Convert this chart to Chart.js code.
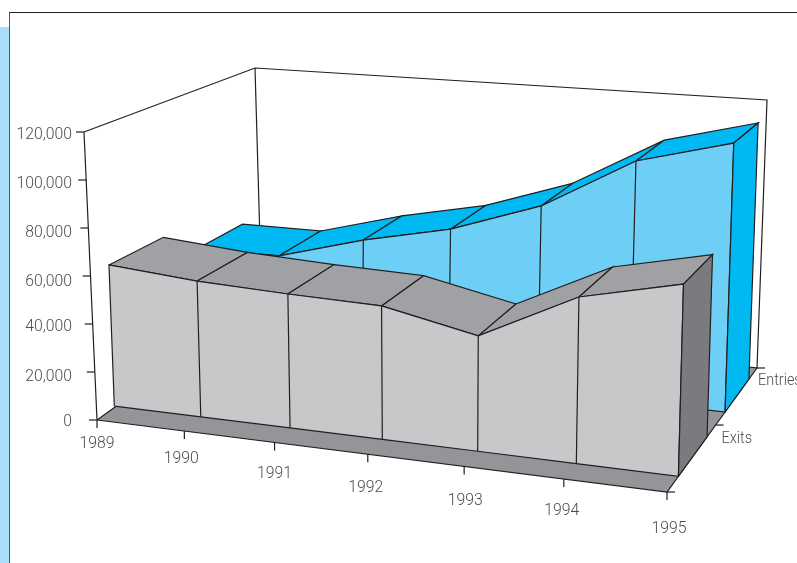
<!DOCTYPE html>
<html>
<head>
<meta charset="utf-8">
<title>Entries and exits, 1989-1995</title>
<script src="https://cdn.jsdelivr.net/npm/chart.js@4"></script>
<style>
  html, body { margin: 0; padding: 0; background: #fff; overflow: hidden; }
  #page { position: relative; width: 797px; height: 563px; }
  #band { position: absolute; left: 0; top: 27px; width: 9px; bottom: 0; background: #a9dffa; }
  #frame { position: absolute; left: 9px; top: 12px; right: 0; bottom: 0; border-left: 1px solid #58595b; border-top: 1px solid #231f20; }
  canvas { position: absolute; left: 0; top: 0; }
</style>
</head>
<body>
<div id="page">
  <div id="band"></div>
  <div id="frame"></div>
  <canvas id="chart" width="797" height="563"></canvas>
</div>
<script>
const years = ["1989", "1990", "1991", "1992", "1993", "1994", "1995"];
const exits = [60000, 56800, 55100, 54000, 45900, 65100, 73800];
const entries = [46700, 47000, 57800, 66200, 79800, 102300, 112800];
const valueTicks = [0, 20000, 40000, 60000, 80000, 100000, 120000];
const seriesNames = ["Exits", "Entries"];
const maxValue = 120000;

// box corners on screen, named floor/top + front/back + left/right
const box = {
  floorFrontLeft: [97, 420], floorFrontRight: [667, 492],
  floorBackLeft: [250, 310], floorBackRight: [757, 368],
  topFrontLeft: [84, 132], topFrontRight: [675, 173],
  topBackLeft: [255, 68], topBackRight: [767, 100]
};
const backLeftFoot = [262, 310];
const yearPerspective = -0.095;

// depth of each ribbon across the floor, 0 = front, 1 = back
const exitsDepth = [0.127, 0.445];
const entriesDepth = [0.645, 0.91];
const seriesTickDepth = [0.54, 1];

// ribbons fan out a little more than the floor edge on the left side
const ribbonFan = 9;
const ribbonFanCentre = 0.36;

// label nudges, all measured from the tick they belong to
const valueLabelDy = [6, 9, 7, 10, 9, 8, 7];
const yearLabelDx = [0, -3, 0, -2, 1, -2, 2];
const yearLabelDy = [28, 32, 36, 38, 39, 36, 41];
const seriesLabelDx = [6, 1];
const seriesLabelDy = [18, 17];

const colors = {
  line: "#231f20", text: "#4d4d4f", floor: "#939598",
  exitsFront: "#c7c8ca", exitsTop: "#a0a1a4", exitsSide: "#7a7b7e",
  entriesFront: "#6dcff6", entriesTop: "#00b9f2", entriesSide: "#00b9f2"
};

function mix(a, b, t) {
  return [a[0] + (b[0] - a[0]) * t, a[1] + (b[1] - a[1]) * t];
}

function yearFraction(i) {
  const u = i / (years.length - 1);
  return (1 + yearPerspective) * u / (1 + yearPerspective * u);
}

// year index + depth + value to canvas position
function project(i, depth, value) {
  const f = yearFraction(i);
  const floor = mix(
    mix(box.floorFrontLeft, box.floorBackLeft, depth),
    mix(box.floorFrontRight, box.floorBackRight, depth), f);
  const top = mix(
    mix(box.topFrontLeft, box.topBackLeft, depth),
    mix(box.topFrontRight, box.topBackRight, depth), f);
  const p = mix(floor, top, value / maxValue);
  return { x: p[0], y: p[1] };
}

function ribbonPoint(i, depth, value) {
  const p = project(i, depth, value);
  p.x += (1 - yearFraction(i)) * (depth - ribbonFanCentre) * ribbonFan;
  return p;
}

function xy(p) {
  return { x: p[0], y: p[1] };
}

const marks = [];

function path(points, fill) {
  marks.push({
    data: points,
    showLine: true,
    pointRadius: 0,
    tension: 0,
    borderWidth: 1.2,
    borderColor: colors.line,
    borderJoinStyle: "miter",
    backgroundColor: fill || "transparent",
    fill: fill ? "shape" : false
  });
}

function closed(points, fill) {
  path(points.concat([points[0]]), fill);
}

function addRibbon(values, depth, front, top, side) {
  const last = values.length - 1;
  const [near, far] = depth;
  for (let i = 0; i < last; i++) {
    closed([
      ribbonPoint(i, near, values[i]), ribbonPoint(i + 1, near, values[i + 1]),
      ribbonPoint(i + 1, far, values[i + 1]), ribbonPoint(i, far, values[i])
    ], top);
  }
  const face = values.map((v, i) => ribbonPoint(i, near, 0));
  const tops = values.map((v, i) => ribbonPoint(i, near, v)).reverse();
  closed(face.concat(tops), front);
  for (let i = 1; i < last; i++) {
    path([ribbonPoint(i, near, 0), ribbonPoint(i, near, values[i])]);
  }
  closed([
    ribbonPoint(last, near, 0), ribbonPoint(last, far, 0),
    ribbonPoint(last, far, values[last]), ribbonPoint(last, near, values[last])
  ], side);
}

// back walls
path([xy(box.topFrontLeft), xy(box.topBackLeft), xy(box.topBackRight), xy(box.floorBackRight)]);
path([xy(box.topBackLeft), xy(backLeftFoot)]);
path([xy(box.topFrontLeft), xy(box.floorFrontLeft)]);

// floor
closed([xy(box.floorFrontLeft), xy(box.floorFrontRight), xy(box.floorBackRight), xy(box.floorBackLeft)], colors.floor);

addRibbon(entries, entriesDepth, colors.entriesFront, colors.entriesTop, colors.entriesSide);
addRibbon(exits, exitsDepth, colors.exitsFront, colors.exitsTop, colors.exitsSide);

// axis ticks
valueTicks.forEach(v => {
  const p = project(0, 0, v);
  path([p, { x: p.x - 8, y: p.y }]);
});
years.forEach((y, i) => {
  const p = project(i, 0, 0);
  path([p, { x: p.x, y: p.y + 8 }]);
});
[0].concat(seriesTickDepth).forEach(d => {
  const p = project(years.length - 1, d, 0);
  path([p, { x: p.x + 8, y: p.y }]);
});

marks.forEach((m, i) => { m.order = -i; });

// condensed text: the installed faces run a little wide at this height
function label(ctx, text, x, y, squeeze) {
  ctx.save();
  ctx.translate(x, y);
  ctx.scale(squeeze, 1);
  ctx.fillText(text, 0, 0);
  ctx.restore();
}

const axisLabels = {
  id: "axisLabels",
  afterDraw(chart) {
    const ctx = chart.ctx;
    ctx.save();
    ctx.font = '300 16.8px Roboto';
    ctx.fillStyle = colors.text;
    ctx.textBaseline = "alphabetic";

    ctx.textAlign = "right";
    valueTicks.forEach((v, i) => {
      label(ctx, v.toLocaleString("en-US"), 72, project(0, 0, v).y + valueLabelDy[i], 0.94);
    });

    ctx.textAlign = "center";
    years.forEach((y, i) => {
      const p = project(i, 0, 0);
      label(ctx, y, p.x + yearLabelDx[i], p.y + yearLabelDy[i], 0.94);
    });

    ctx.textAlign = "left";
    seriesNames.forEach((name, i) => {
      const p = project(years.length - 1, seriesTickDepth[i], 0);
      label(ctx, name, p.x + seriesLabelDx[i], p.y + seriesLabelDy[i], 0.86);
    });
    ctx.restore();
  }
};

new Chart(document.getElementById("chart"), {
  type: "scatter",
  data: { datasets: marks },
  options: {
    responsive: false,
    animation: false,
    events: [],
    layout: { padding: 0 },
    plugins: { legend: { display: false }, tooltip: { enabled: false } },
    scales: {
      x: { type: "linear", min: 0, max: 797, display: false },
      y: { type: "linear", min: 0, max: 563, reverse: true, display: false }
    }
  },
  plugins: [axisLabels]
});
</script>
</body>
</html>
